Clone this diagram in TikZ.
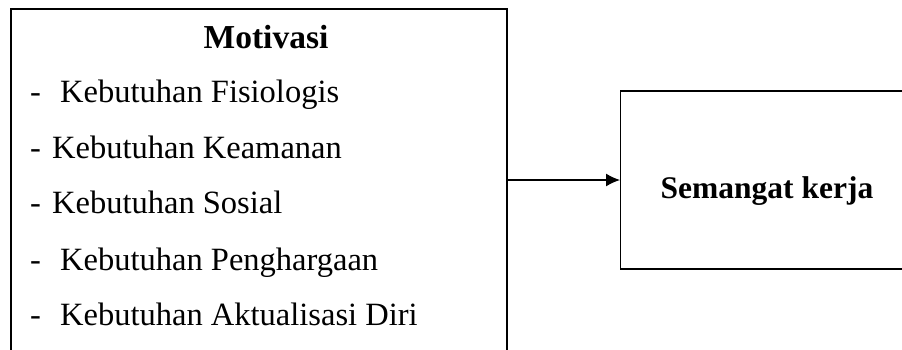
\documentclass[tikz,border=0pt]{standalone}
\usepackage{fontspec}
\setmainfont{Liberation Serif}
\usetikzlibrary{arrows.meta}
\begin{document}
\begin{tikzpicture}[x=1pt,y=1pt,
  txt/.style={inner sep=0pt,anchor=base west,font=\fontsize{32.5}{38}\selectfont},
  btxt/.style={inner sep=0pt,anchor=base,font=\fontsize{31.5}{38}\selectfont\bfseries},
  boxline/.style={line width=1.6pt,black}]
\useasboundingbox (0,0) rectangle (902,349);
\fill[white] (0,0) rectangle (902,349);
% left box (open at bottom)
\coordinate (lbl) at (11,-5);
\coordinate (ltl) at (11,340);
\coordinate (ltr) at (507,340);
\coordinate (lbr) at (507,-5);
\draw[boxline] (lbl) -- (ltl) -- (ltr) -- (lbr);
\node[btxt,font=\fontsize{33.5}{38}\selectfont\bfseries] (mot) at (266,301) {Motivasi};
\node[txt] (k1) at (30,247) {\makebox[30pt][l]{-}Kebutuhan Fisiologis};
\node[txt] (k2) at (30,191) {\makebox[22pt][l]{-}Kebutuhan Keamanan};
\node[txt] (k3) at (30,136) {\makebox[22pt][l]{-}Kebutuhan Sosial};
\node[txt] (k4) at (30,79) {\makebox[30pt][l]{-}Kebutuhan Penghargaan};
\node[txt] (k5) at (30,24) {\makebox[30pt][l]{-}Kebutuhan Aktualisasi Diri};
% right box
\node[draw,line width=1.3pt,minimum width=300pt,minimum height=178pt,anchor=west,inner sep=0pt] (sk) at (620,169) {};
\node[btxt] (skt) at (767,151) {Semangat kerja};
\coordinate (a0) at (507,169);
\draw[line width=1.3pt,-{Latex[length=14pt,width=13pt]}] (a0) -- (sk.west);
\end{tikzpicture}
\end{document}
